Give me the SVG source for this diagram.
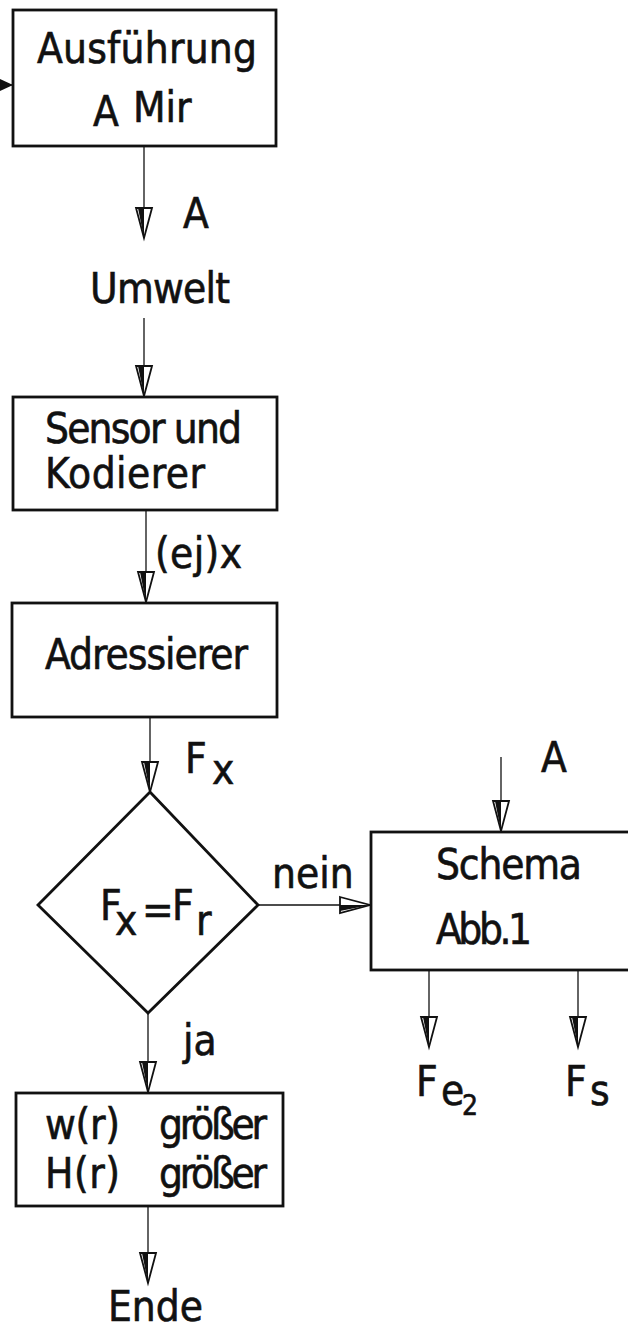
<svg xmlns="http://www.w3.org/2000/svg" width="628" height="1331" viewBox="0 0 628 1331">
  <style>
    .box { fill: #ffffff; stroke: #111111; stroke-width: 2.8; }
    .wire { fill: none; stroke: #111111; stroke-width: 1.3; }
    .lbl { font-family: "DejaVu Sans Condensed", "DejaVu Sans", "Liberation Sans", sans-serif; font-size: 42px; fill: #111111; stroke: #111111; stroke-width: 0.6; }
    .sub { font-size: 28px; }
  </style>
  <defs>
    <!-- narrow open arrowhead, half shaded, tip at the line end -->
    <marker id="head" markerUnits="userSpaceOnUse" markerWidth="34" markerHeight="20" viewBox="-1 -10 33 20" refX="30" refY="0" orient="auto" overflow="visible">
      <path d="M0,-8 L30,0 L0,8 Z" fill="#ffffff" stroke="#111111" stroke-width="1.8" stroke-linejoin="miter"/>
      <path d="M0,0 L30,0 L0,6 Z" fill="#111111"/>
    </marker>
  </defs>

  <rect width="628" height="1331" fill="#ffffff"/>

  <!-- connectors -->
  <g id="connectors">
    <path d="M0,85 H13" class="wire"/>
    <polygon points="0,79 13,85 0,91" fill="#111111"/>
    <path d="M144,146 V238" class="wire" marker-end="url(#head)"/>
    <path d="M144,318 V396" class="wire" marker-end="url(#head)"/>
    <path d="M146,510 V602" class="wire" marker-end="url(#head)"/>
    <path d="M150,717 V792" class="wire" marker-end="url(#head)"/>
    <path d="M258,905 H370" class="wire" marker-end="url(#head)"/>
    <path d="M501,757 V831" class="wire" marker-end="url(#head)"/>
    <path d="M148,1013 V1092" class="wire" marker-end="url(#head)"/>
    <path d="M429,970 V1047" class="wire" marker-end="url(#head)"/>
    <path d="M578,970 V1047" class="wire" marker-end="url(#head)"/>
    <path d="M148,1206 V1283" class="wire" marker-end="url(#head)"/>
  </g>

  <!-- connector labels -->
  <g id="labels" class="lbl">
    <text x="183" y="228">A</text>
    <text x="155" y="568" textLength="87" lengthAdjust="spacing">(ej)x</text>
    <text x="185" y="773">F<tspan x="212" dy="11">x</tspan></text>
    <text x="272" y="888">nein</text>
    <text x="541" y="772">A</text>
    <text x="183" y="1055">ja</text>
  </g>

  <g id="ausfuehrung">
    <rect x="13" y="10" width="263" height="136" class="box"/>
    <text class="lbl" x="37" y="63" textLength="220" lengthAdjust="spacing">Ausführung</text>
    <text class="lbl" x="93" y="126">A<tspan x="133" dy="-4">Mir</tspan></text>
  </g>

  <g id="umwelt">
    <text class="lbl" x="90" y="303" textLength="140" lengthAdjust="spacing">Umwelt</text>
  </g>

  <g id="sensor">
    <rect x="13" y="397" width="264" height="113" class="box"/>
    <text class="lbl" x="45" y="443" textLength="197" lengthAdjust="spacing">Sensor und</text>
    <text class="lbl" x="45" y="488" textLength="160" lengthAdjust="spacing">Kodierer</text>
  </g>

  <g id="adressierer">
    <rect x="12" y="603" width="265" height="114" class="box"/>
    <text class="lbl" x="45" y="669" textLength="203" lengthAdjust="spacing">Adressierer</text>
  </g>

  <g id="vergleich">
    <polygon points="150,792 258,905 148,1013 38,905" class="box"/>
    <text class="lbl" x="100" y="920">F<tspan x="115" dy="15">x</tspan><tspan x="142" dy="-11">=</tspan><tspan x="172" dy="-4">F</tspan><tspan x="196" dy="15">r</tspan></text>
  </g>

  <g id="schema">
    <rect x="371" y="832" width="280" height="138" class="box"/>
    <text class="lbl" x="436" y="879" textLength="146" lengthAdjust="spacing">Schema</text>
    <text class="lbl" x="436" y="944" textLength="96" lengthAdjust="spacing">Abb.1</text>
  </g>

  <g id="ausgang-fe2">
    <text class="lbl" x="416" y="1096">F<tspan x="441" dy="9">e</tspan><tspan class="sub" x="462" dy="10">2</tspan></text>
  </g>

  <g id="ausgang-fs">
    <text class="lbl" x="565" y="1096">F<tspan x="590" dy="9">s</tspan></text>
  </g>

  <g id="groesser">
    <rect x="16" y="1093" width="267" height="113" class="box"/>
    <text class="lbl" x="45" y="1139" textLength="75" lengthAdjust="spacing">w(r)</text>
    <text class="lbl" x="159" y="1139" textLength="108" lengthAdjust="spacing">größer</text>
    <text class="lbl" x="45" y="1188" textLength="75" lengthAdjust="spacing">H(r)</text>
    <text class="lbl" x="159" y="1188" textLength="108" lengthAdjust="spacing">größer</text>
  </g>

  <g id="ende">
    <text class="lbl" x="108" y="1321" textLength="95" lengthAdjust="spacing">Ende</text>
  </g>
</svg>
